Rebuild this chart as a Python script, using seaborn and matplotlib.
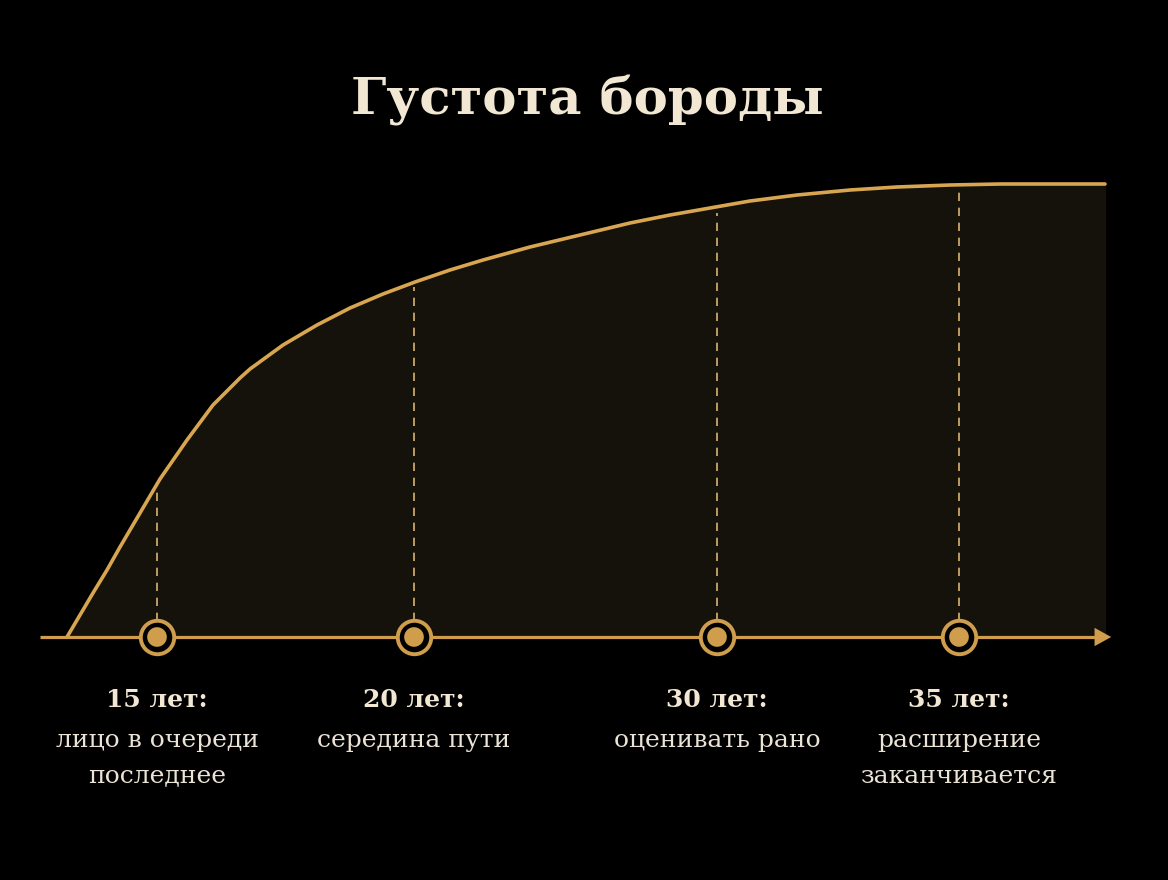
import numpy as np
import pandas as pd
import seaborn as sns
import matplotlib.pyplot as plt

# Curve: position along the timeline and beard density
curve_x = [67, 80, 93, 107, 120, 140, 160, 187, 213, 240, 250, 283, 317,
           350, 383, 415, 450, 483, 530, 580, 630, 670, 710, 750, 797,
           850, 897, 950, 1000, 1105]
curve_y = [0, 22, 44, 67, 90, 124, 158, 197, 232, 259, 268, 292, 312,
           329, 343, 355, 367, 377, 390, 402, 414, 422, 429, 436, 442,
           447, 450, 452, 453, 453]

# Milestones on the timeline
ages = ['15 лет:', '20 лет:', '30 лет:', '35 лет:']
notes = ['лицо в очереди\nпоследнее', 'середина пути', 'оценивать рано',
         'расширение\nзаканчивается']
marker_x = [157, 414, 717, 959]
marker_y = [152, 350, 424, 451]

gold = '#cf9d4b'
curve_gold = '#d8a650'
cream = '#f1e7d3'

sns.set_theme(style='dark', rc={'axes.facecolor': 'black', 'figure.facecolor': 'black'})
plt.rcParams['font.family'] = ['DejaVu Serif']

df = pd.DataFrame({'x': curve_x, 'y': curve_y})
marks = pd.DataFrame({'x': marker_x, 'y': [0] * len(marker_x), 'top': marker_y})

fig = plt.figure(figsize=(11.68, 8.8), dpi=100)
ax = fig.add_axes([0, 0, 1, 1])
ax.set_xlim(0, 1168)
ax.set_ylim(-243, 637)
ax.axis('off')

# filled area under the curve
ax.fill_between(df['x'], 0, df['y'], color='#15120c', zorder=1)

# growth curve
sns.lineplot(data=df, x='x', y='y', ax=ax, color=curve_gold, linewidth=2.6,
             sort=False, zorder=3)
ax.lines[-1].set_solid_joinstyle('round')

# timeline axis with arrow
ax.plot([40, 1100], [0, 0], color=gold, linewidth=2.3, zorder=4,
        solid_capstyle='butt')
ax.annotate('', xy=(1114, 0), xytext=(1094, 0),
            arrowprops=dict(arrowstyle='-|>,head_length=1.0,head_width=0.55',
                            color=gold, lw=0), zorder=4)

# dashed guides from milestones up to the curve
for x, top in zip(marks['x'], marks['top']):
    ax.plot([x, x], [16, top], color='#d9b36e', linewidth=1.2,
            dashes=(5, 4), zorder=2)

# milestone markers
sns.scatterplot(data=marks, x='x', y='y', ax=ax, s=580, color='black',
                edgecolor=gold, linewidth=2.8, zorder=5, legend=False)
sns.scatterplot(data=marks, x='x', y='y', ax=ax, s=200, color=gold,
                edgecolor='none', linewidth=0, zorder=6, legend=False)

# labels below the axis
for x, age, note in zip(marker_x, ages, notes):
    ax.text(x, -63, age, ha='center', va='center', fontsize=18,
            fontweight='bold', color=cream)
    for i, line in enumerate(note.split('\n')):
        ax.text(x, -103 - 36 * i, line, ha='center', va='center',
                fontsize=18, color='#ebe4d6')

ax.set_xlabel('')
ax.set_ylabel('')

fig.text(0.503, 0.886, 'Густота бороды', ha='center', va='center',
         fontsize=37, fontweight='bold', color=cream)

fig.savefig('out.png', dpi=100, facecolor='black')
